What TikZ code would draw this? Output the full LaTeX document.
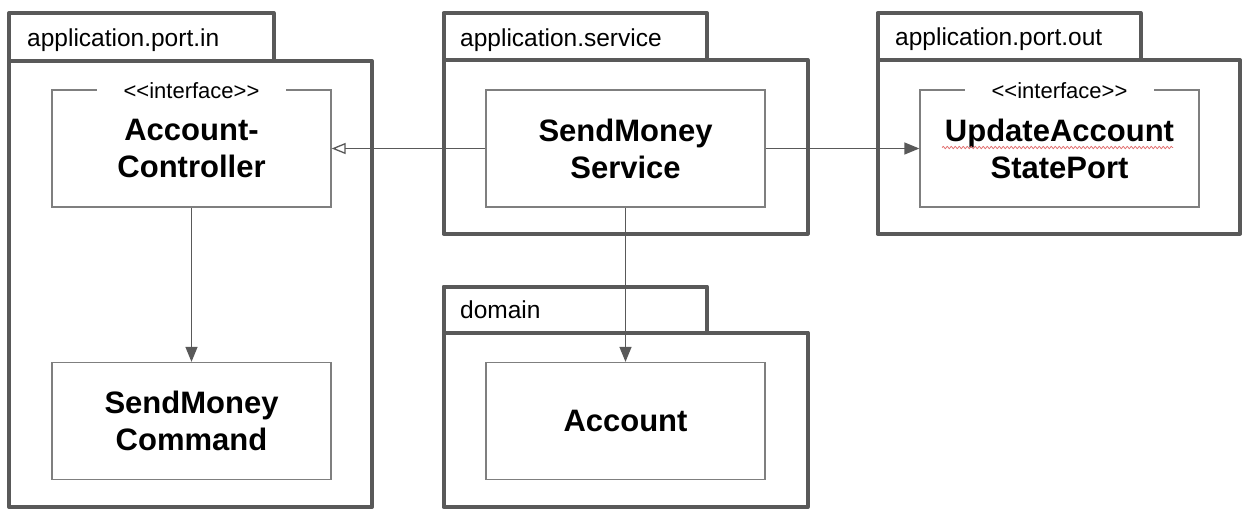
\documentclass[tikz,border=0pt]{standalone}
\usepackage{fontspec}
\setmainfont{Liberation Sans}
\usetikzlibrary{arrows.meta,decorations.pathmorphing}
\definecolor{pkg}{HTML}{595959}
\definecolor{boxc}{HTML}{7F7F7F}
\definecolor{arrc}{HTML}{595959}
\definecolor{spell}{HTML}{E06666}
\begin{document}
\begin{tikzpicture}[x=1pt,y=-1pt,
  pkgline/.style={draw=pkg,line width=4pt,line join=round},
  classbox/.style={draw=boxc,line width=1.3pt,minimum width=279pt,minimum height=117pt,inner sep=0pt,align=center,font=\fontsize{31}{37}\selectfont\bfseries},
  stereo/.style={fill=white,inner xsep=27pt,inner ysep=1pt,font=\fontsize{22}{25}\selectfont},
  pkglabel/.style={anchor=base west,inner sep=0pt,font=\fontsize{24.5}{29}\selectfont},
  conn/.style={draw=arrc,line width=1.3pt},
  filledhead/.style={-{Triangle[length=15pt,width=12pt]}},
  openhead/.style={-{Triangle[open,length=14pt,width=11pt]}}]
\useasboundingbox (0,0) rectangle (1254,520);
\fill[white] (0,0) rectangle (1254,520);

% packages
\draw[pkgline] (9,13) rectangle (273.5,61);
\draw[pkgline] (9,61) rectangle (372,507);
\draw[pkgline] (443.5,13) rectangle (707,60);
\draw[pkgline] (443.5,60) rectangle (807.5,233.5);
\draw[pkgline] (877.5,13) rectangle (1140.5,60);
\draw[pkgline] (877.5,60) rectangle (1240,233.5);
\draw[pkgline] (443.5,286.5) rectangle (707,332.5);
\draw[pkgline] (443.5,332.5) rectangle (807.5,507);

\node[pkglabel] (l1) at (27,46) {application.port.in};
\node[pkglabel] (l2) at (460,46) {application.service};
\node[pkglabel] (l3) at (895,45) {application.port.out};
\node[pkglabel] (l4) at (460,318) {domain};

% classes
\node[classbox] (ctrl) at (191.5,148.5) {Account-\\Controller};
\node[classbox] (cmd) at (191.5,421) {SendMoney\\Command};
\node[classbox] (svc) at (625.5,148.5) {SendMoney\\Service};
\node[classbox] (port) at (1059.5,148.5) {UpdateAccount\\StatePort};
\node[classbox] (acc) at (625.5,421) {Account};

\node[stereo] (st1) at ([yshift=-1pt]ctrl.north) {<{}<interface>{}>};
\node[stereo] (st2) at ([yshift=-1pt]port.north) {<{}<interface>{}>};

% spell-check underline
\coordinate (sq1) at (942,147.5);
\coordinate (sq2) at (1173,147.5);
\draw[spell,line width=0.7pt,decorate,decoration={snake,amplitude=1.2pt,segment length=4pt}] (sq1) -- (sq2);

% connectors
\draw[conn,openhead] (svc.west) -- (ctrl.east);
\draw[conn,filledhead] (svc.east) -- (port.west);
\draw[conn,filledhead] (ctrl.south) -- (cmd.north);
\draw[conn,filledhead] (svc.south) -- (acc.north);
\end{tikzpicture}
\end{document}
